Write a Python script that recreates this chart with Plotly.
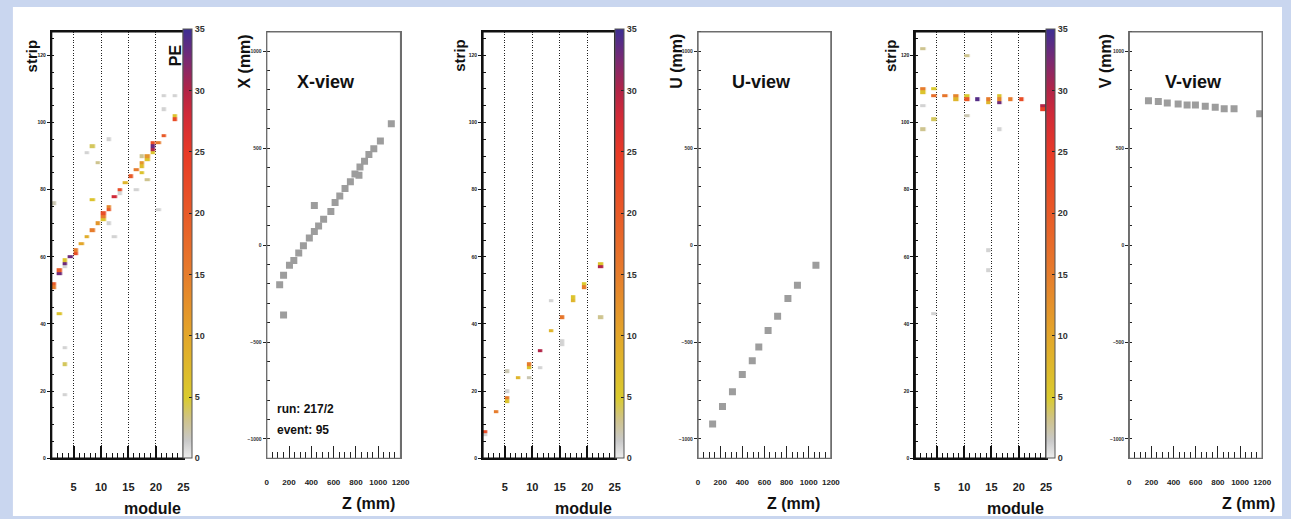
import plotly.graph_objects as go

W, H = 1291, 519
FONT = "Liberation Sans, Arial, sans-serif"

# ---------------- data ----------------
# X-view strip hits: module, strip, photo-electrons
x_mod = [23, 21, 21, 23, 23, 21, 20, 19, 19, 19, 19, 18, 18, 17, 17, 17, 17, 16, 15, 14,
         18, 16, 13, 12, 13, 11, 11, 10, 10, 10, 9, 8, 7, 6, 5, 5, 4, 12, 11, 11,
         9, 8, 7, 8, 20, 1, 3, 3, 3, 2, 2, 1, 1, 2, 3, 3, 3]
x_strip = [108, 108, 104, 102, 101, 96, 94, 94, 93, 92, 91, 90, 89, 90, 88, 87, 85, 86, 84, 82,
           83, 80, 80, 78, 79, 75, 74, 73, 72, 71, 70, 68, 66, 64, 62, 61, 60, 66, 70, 95,
           88, 93, 91, 77, 74, 76, 59, 58, 57, 56, 55, 52, 51, 43, 33, 28, 19]
x_pe = [1, 1, 1, 6, 22, 20, 15, 22, 33, 30, 6, 12, 6, 3, 12, 7, 6, 15, 20, 8,
        3, 1, 22, 28, 1, 14, 20, 22, 15, 6, 12, 15, 9, 10, 15, 22, 33, 1, 1, 1,
        3, 4, 1, 6, 1, 2, 6, 33, 1, 20, 33, 20, 15, 6, 1, 4, 1]

# U-view strip hits
u_mod = [1, 1, 3, 5, 5, 5, 5, 7, 9, 9, 9, 11, 11, 13, 13, 15, 15, 15, 17, 17, 19, 19, 22, 22, 22]
u_strip = [8, 7, 14, 20, 18, 17, 26, 24, 24, 28, 27, 27, 32, 47, 38, 42, 35, 34, 48, 47, 52, 51, 58, 57, 42]
u_pe = [22, 1, 15, 1, 15, 6, 2, 8, 2, 15, 6, 1, 30, 1, 8, 16, 1, 1, 6, 8, 5, 15, 6, 30, 3]

# V-view strip hits
v_mod = [2, 2, 2, 2, 2, 4, 4, 4, 6, 8, 8, 10, 10, 10, 10, 12, 14, 14, 16, 16, 16, 16, 18, 20,
         24, 24, 14, 14, 4]
v_strip = [122, 110, 109, 105, 98, 110, 108, 101, 108, 108, 107, 120, 108, 107, 102, 107, 107, 106,
           108, 107, 106, 98, 107, 107, 105, 104, 62, 56, 43]
v_pe = [3, 15, 6, 1, 3, 5, 17, 4, 16, 14, 8, 3, 5, 20, 2, 34, 15, 8, 6, 14, 33, 1, 15, 22,
        30, 24, 1, 1, 1]

# reconstructed positions (mm)
xview_z = [116, 151, 204, 243, 287, 329, 382, 427, 465, 510, 575, 613, 655, 702, 750, 791, 827,
           836, 877, 916, 960, 1019, 1117, 427, 151]
xview_x = [-204, -155, -104, -80, -41, -4, 36, 70, 99, 133, 173, 220, 253, 292, 327, 366, 360,
           403, 432, 467, 497, 537, 626, 204, -361]
uview_z = [132, 221, 311, 400, 490, 549, 633, 719, 812, 898, 1065]
uview_u = [-923, -833, -756, -667, -597, -526, -440, -367, -275, -207, -104]
vview_z = [173, 262, 343, 441, 522, 597, 686, 776, 857, 946, 1178]
vview_v = [745, 740, 733, 728, 723, 723, 716, 711, 703, 703, 677]

pe_ticks = [0, 5, 10, 15, 20, 25, 30, 35]
module_ticks = [5, 10, 15, 20, 25]
strip_ticks = [0, 20, 40, 60, 80, 100, 120]
z_ticks = [0, 200, 400, 600, 800, 1000, 1200]
pos_ticks = [-1000, -500, 0, 500, 1000]

N_MOD, N_STRIP = 24, 128

# ---------------- helpers ----------------
def fx(p):
    return p / W


def fy(p):
    return 1 - p / H


def grid(mods, strips, pes):
    z = [[None] * N_MOD for _ in range(N_STRIP)]
    for m, s, p in zip(mods, strips, pes):
        z[s][m - 1] = p
    return z


PE_SCALE = [
    [0.00, "#ececec"], [0.04, "#c9c9c9"], [0.09, "#cfc38a"], [0.14, "#dacb2e"],
    [0.29, "#e3a52a"], [0.43, "#e67c2c"], [0.57, "#e85a28"], [0.71, "#e83a26"],
    [0.80, "#d02a38"], [0.86, "#b02448"], [0.93, "#782a74"], [1.00, "#3c2e94"],
]

TOP, BOT = 32, 461
panels = [(50, 183), (267, 402), (485, 618), (702, 836), (921, 1053), (1137, 1271)]

fig = go.Figure()

heat_sets = [(x_mod, x_strip, x_pe), (u_mod, u_strip, u_pe), (v_mod, v_strip, v_pe)]
for i, (m, s, p) in enumerate(heat_sets):
    idx = 2 * i + 1
    fig.add_trace(go.Heatmap(
        z=grid(m, s, p), x0=1.5, dx=1, y0=0, dy=1,
        zmin=0, zmax=35, colorscale=PE_SCALE, xgap=0.6, ygap=0,
        xaxis="x" if idx == 1 else f"x{idx}", yaxis="y" if idx == 1 else f"y{idx}",
        hoverongaps=False,
        colorbar=dict(
            x=fx(panels[idx - 1][1]), xanchor="left", xpad=0, ypad=0,
            y=fy(BOT), yanchor="bottom", len=BOT - TOP, lenmode="pixels",
            thickness=9, thicknessmode="pixels",
            outlinewidth=1, outlinecolor="#555",
            tickmode="array", tickvals=pe_ticks, ticks="inside", ticklen=3,
            tickcolor="#222", tickfont=dict(family=FONT, size=9, color="#333", weight="bold"),
        ),
    ))

scatter_sets = [(xview_z, xview_x), (uview_z, uview_u), (vview_z, vview_v)]
for i, (zz, vv) in enumerate(scatter_sets):
    idx = 2 * i + 2
    fig.add_trace(go.Scatter(
        x=zz, y=vv, mode="markers",
        marker=dict(symbol="square", size=7, color="#9d9d9d", line=dict(width=0)),
        xaxis=f"x{idx}", yaxis=f"y{idx}", showlegend=False,
    ))

layout = dict(
    width=W, height=H, margin=dict(l=0, r=0, t=0, b=0), autosize=False,
    paper_bgcolor="#c9d6ef", plot_bgcolor="rgba(0,0,0,0)", showlegend=False,
    font=dict(family=FONT, color="#111"),
)

frames = []
for k, (x0, x1) in enumerate(panels):
    idx = k + 1
    xa = "xaxis" if idx == 1 else f"xaxis{idx}"
    ya = "yaxis" if idx == 1 else f"yaxis{idx}"
    anchor_x = "y" if idx == 1 else f"y{idx}"
    anchor_y = "x" if idx == 1 else f"x{idx}"
    if idx % 2 == 1:
        layout[xa] = dict(
            domain=[fx(x0), fx(x1)], anchor=anchor_x, range=[1, 25],
            tickmode="array", tickvals=module_ticks, ticks="inside", ticklen=13, tickwidth=1.5,
            tickcolor="#111", ticklabelstandoff=18,
            tickfont=dict(family=FONT, size=11, color="#222", weight="bold"),
            minor=dict(ticks="inside", ticklen=6, tickwidth=1.2, tickcolor="#111",
                       tick0=0, dtick=1, showgrid=False),
            showgrid=True, gridcolor="#222", griddash="1px,1.6px", gridwidth=1.2,
            showline=True, linecolor="#111", linewidth=1.5, mirror=True, zeroline=False,
        )
        layout[ya] = dict(
            domain=[fy(BOT), fy(TOP)], anchor=anchor_y, range=[0, 127],
            tickmode="array", tickvals=strip_ticks, ticks="outside", ticklen=3, tickwidth=1,
            tickcolor="#111", tickfont=dict(family=FONT, size=5, color="#222", weight="bold"),
            minor=dict(ticks="inside", ticklen=3, tickwidth=1, tickcolor="#111",
                       tick0=0, dtick=5, showgrid=False),
            showgrid=False, showline=True, linecolor="#111", linewidth=1.5, mirror=True,
            zeroline=False,
        )
        frames.append((idx, "#111", 1.5))
    else:
        layout[xa] = dict(
            domain=[fx(x0), fx(x1)], anchor=anchor_x, range=[0, 1200],
            tickmode="array", tickvals=z_ticks, ticks="inside", ticklen=12, tickwidth=1.2,
            tickcolor="#222", ticklabelstandoff=16,
            tickfont=dict(family=FONT, size=8, color="#222", weight="bold"),
            minor=dict(ticks="inside", ticklen=6, tickwidth=1, tickcolor="#222",
                       tick0=0, dtick=50, showgrid=False),
            showgrid=False, showline=True, linecolor="#6e6e6e", linewidth=1.3, mirror=True,
            zeroline=False,
        )
        layout[ya] = dict(
            domain=[fy(BOT), fy(TOP)], anchor=anchor_y, range=[-1100, 1100],
            tickmode="array", tickvals=pos_ticks, ticks="outside", ticklen=3, tickwidth=1,
            tickcolor="#222", tickfont=dict(family=FONT, size=5, color="#333", weight="bold"),
            minor=dict(ticks="inside", ticklen=3, tickwidth=1, tickcolor="#222",
                       tick0=0, dtick=100, showgrid=False),
            showgrid=False, showline=True, linecolor="#6e6e6e", linewidth=1.3, mirror=True,
            zeroline=False,
        )
        frames.append((idx, "#6e6e6e", 1.3))

fig.update_layout(**layout)

# white page area over the blue frame
fig.add_shape(type="rect", xref="paper", yref="paper", x0=fx(11), x1=1, y0=0, y1=fy(7),
              fillcolor="white", line=dict(width=0), layer="below")

# panel frames (drawn on each subplot's own domain)
for idx, col, wid in frames:
    sfx = "" if idx == 1 else str(idx)
    fig.add_shape(type="rect", xref=f"x{sfx} domain", yref=f"y{sfx} domain",
                  x0=0, x1=1, y0=0, y1=1, line=dict(color=col, width=wid),
                  fillcolor="rgba(0,0,0,0)", layer="above")


def label(text, x, y, size, angle=0, xanchor="center", weight="bold"):
    fig.add_annotation(text=text, xref="paper", yref="paper", x=fx(x), y=fy(y),
                       xanchor=xanchor, yanchor="middle", textangle=angle, showarrow=False,
                       font=dict(family=FONT, size=size, color="#111", weight=weight))


for cx in (30, 462, 896):
    label("strip", cx, 56, 15, angle=-90)
label("PE", 175, 56, 16, angle=-90)
for rx in (183, 617, 1053):
    label("module", rx, 511, 16, xanchor="right")
for cx, t in ((245, "X (mm)"), (680, "U (mm)"), (1113, "V (mm)")):
    label(t, cx, 62, 16, angle=-90)
for cx, t in ((327, "X-view"), (766, "U-view"), (1202, "V-view")):
    label(t, cx, 82, 18)
for rx in (398, 827, 1286):
    label("Z (mm)", rx, 506, 16, xanchor="right")
label("run: 217/2", 275, 411, 12, xanchor="left")
label("event: 95", 275, 433, 12, xanchor="left")

fig.write_html("out.html")
